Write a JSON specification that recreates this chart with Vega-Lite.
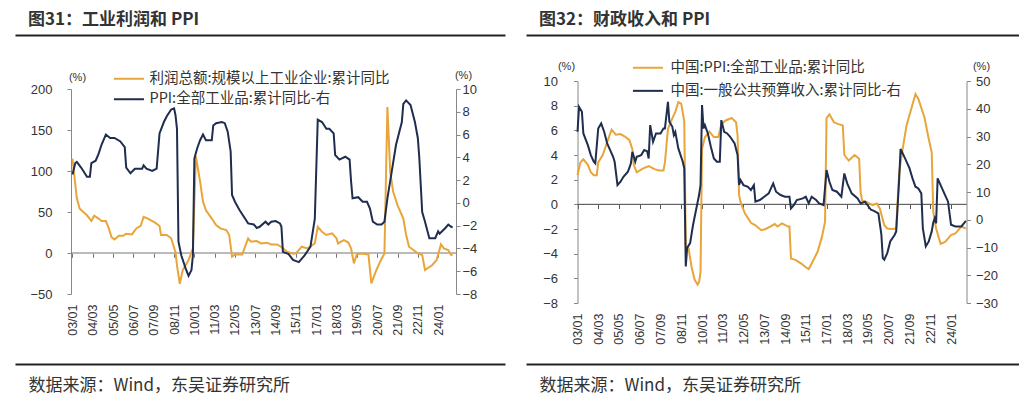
{
  "$schema": "https://vega.github.io/schema/vega-lite/v6.json",
  "padding": {"left": 15, "top": 11, "right": 0, "bottom": 25},
  "spacing": 21,
  "background": "white",
  "resolve": {"scale": {"color": "independent"}, "legend": {"color": "independent"}},
  "config": {
    "view": {"stroke": null},
    "axis": {"grid": false, "labelFont": "Liberation Sans", "labelColor": "#333", "titleFont": "Liberation Sans", "titleFontWeight": "normal", "titleColor": "#333"},
    "legend": {"labelFont": "Noto Sans CJK SC", "labelColor": "#333", "labelLimit": 500}
  },
  "datasets": {
    "lp": [{"d":"2003-01","v":115},{"d":"2003-04","v":67},{"d":"2003-06","v":54},{"d":"2003-11","v":46},{"d":"2004-02","v":39},{"d":"2004-04","v":45.5},{"d":"2004-07","v":42},{"d":"2004-09","v":39},{"d":"2004-12","v":39},{"d":"2005-02","v":30},{"d":"2005-04","v":19},{"d":"2005-06","v":16.6},{"d":"2005-09","v":21},{"d":"2005-12","v":21},{"d":"2006-02","v":23.5},{"d":"2006-06","v":22.7},{"d":"2006-09","v":30},{"d":"2006-12","v":33},{"d":"2007-02","v":44},{"d":"2007-05","v":42},{"d":"2007-10","v":37},{"d":"2008-01","v":33},{"d":"2008-02","v":22},{"d":"2008-06","v":22},{"d":"2008-09","v":18},{"d":"2008-12","v":1},{"d":"2009-01","v":-15},{"d":"2009-03","v":-37.5},{"d":"2009-05","v":-21},{"d":"2009-09","v":-8.5},{"d":"2009-12","v":5.6},{"d":"2010-02","v":118},{"d":"2010-05","v":87},{"d":"2010-07","v":62.6},{"d":"2010-09","v":52},{"d":"2011-01","v":42},{"d":"2011-04","v":34},{"d":"2011-07","v":30},{"d":"2011-11","v":28},{"d":"2012-01","v":22},{"d":"2012-03","v":-4.5},{"d":"2012-05","v":-1.7},{"d":"2012-10","v":-1.7},{"d":"2013-02","v":17.8},{"d":"2013-04","v":13.8},{"d":"2013-08","v":14.6},{"d":"2013-11","v":11.7},{"d":"2014-03","v":12.6},{"d":"2014-06","v":10.5},{"d":"2014-10","v":10.5},{"d":"2015-01","v":7.3},{"d":"2015-05","v":1.6},{"d":"2015-09","v":-0.8},{"d":"2015-11","v":-0.5},{"d":"2016-03","v":7.7},{"d":"2016-07","v":5.6},{"d":"2016-12","v":11.7},{"d":"2017-02","v":32},{"d":"2017-05","v":26},{"d":"2017-08","v":22},{"d":"2017-12","v":24},{"d":"2018-03","v":18},{"d":"2018-04","v":11.7},{"d":"2018-08","v":15.8},{"d":"2018-11","v":13},{"d":"2019-01","v":5.6},{"d":"2019-03","v":-12.7},{"d":"2019-05","v":-1.7},{"d":"2019-08","v":-0.5},{"d":"2020-01","v":-1.7},{"d":"2020-03","v":-37},{"d":"2020-06","v":-22.8},{"d":"2020-09","v":-10.6},{"d":"2020-12","v":-0.5},{"d":"2021-02","v":178},{"d":"2021-04","v":99},{"d":"2021-06","v":75},{"d":"2021-09","v":58.5},{"d":"2022-01","v":42},{"d":"2022-03","v":22},{"d":"2022-05","v":7.7},{"d":"2022-08","v":3.6},{"d":"2022-11","v":-0.5},{"d":"2023-02","v":-2.5},{"d":"2023-04","v":-20.7},{"d":"2023-09","v":-14.6},{"d":"2023-12","v":-8.5},{"d":"2024-03","v":10.5},{"d":"2024-05","v":5.6},{"d":"2024-08","v":3.6},{"d":"2024-10","v":-2.5},{"d":"2024-11","v":-1.7}],
    "lq": [{"d":"2003-01","v":2.5},{"d":"2003-03","v":3.5},{"d":"2003-04","v":3.6},{"d":"2003-07","v":3.1},{"d":"2003-11","v":2.3},{"d":"2004-01","v":2.3},{"d":"2004-02","v":3.5},{"d":"2004-05","v":3.7},{"d":"2004-07","v":4.3},{"d":"2004-09","v":5.1},{"d":"2004-12","v":6.0},{"d":"2005-03","v":5.7},{"d":"2005-06","v":5.7},{"d":"2005-10","v":5.4},{"d":"2006-01","v":4.9},{"d":"2006-02","v":3.1},{"d":"2006-05","v":2.6},{"d":"2006-08","v":3.0},{"d":"2007-01","v":3.0},{"d":"2007-02","v":3.3},{"d":"2007-04","v":3.0},{"d":"2007-08","v":2.8},{"d":"2007-11","v":3.0},{"d":"2008-01","v":6.1},{"d":"2008-04","v":7.1},{"d":"2008-06","v":7.6},{"d":"2008-09","v":8.2},{"d":"2008-11","v":8.3},{"d":"2008-12","v":7.7},{"d":"2009-01","v":6.5},{"d":"2009-02","v":-3.4},{"d":"2009-04","v":-4.6},{"d":"2009-07","v":-5.75},{"d":"2009-09","v":-6.4},{"d":"2009-11","v":-5.9},{"d":"2009-12","v":-4.6},{"d":"2010-01","v":3.9},{"d":"2010-03","v":4.8},{"d":"2010-05","v":5.5},{"d":"2010-07","v":6.0},{"d":"2010-09","v":5.5},{"d":"2011-01","v":5.5},{"d":"2011-02","v":6.8},{"d":"2011-04","v":7.0},{"d":"2011-08","v":7.1},{"d":"2011-10","v":7.0},{"d":"2011-12","v":6.25},{"d":"2012-02","v":4.5},{"d":"2012-03","v":0.7},{"d":"2012-05","v":0.1},{"d":"2012-08","v":-0.6},{"d":"2012-12","v":-1.4},{"d":"2013-02","v":-1.8},{"d":"2013-06","v":-1.9},{"d":"2013-08","v":-2.2},{"d":"2013-10","v":-2.1},{"d":"2014-02","v":-1.65},{"d":"2014-04","v":-1.9},{"d":"2014-06","v":-1.65},{"d":"2014-09","v":-1.6},{"d":"2014-12","v":-1.8},{"d":"2015-01","v":-2.1},{"d":"2015-02","v":-4.3},{"d":"2015-06","v":-4.5},{"d":"2015-09","v":-5.0},{"d":"2016-01","v":-5.2},{"d":"2016-05","v":-4.6},{"d":"2016-09","v":-3.85},{"d":"2016-12","v":-1.4},{"d":"2017-02","v":7.3},{"d":"2017-05","v":7.1},{"d":"2017-08","v":6.5},{"d":"2017-10","v":6.5},{"d":"2018-01","v":6.1},{"d":"2018-02","v":4.2},{"d":"2018-05","v":3.8},{"d":"2018-09","v":4.05},{"d":"2018-12","v":3.8},{"d":"2019-01","v":1.9},{"d":"2019-02","v":0.4},{"d":"2019-06","v":0.5},{"d":"2019-09","v":0.1},{"d":"2019-12","v":0.1},{"d":"2020-02","v":-0.5},{"d":"2020-04","v":-1.65},{"d":"2020-07","v":-1.9},{"d":"2020-10","v":-1.9},{"d":"2020-12","v":-1.65},{"d":"2021-02","v":0.4},{"d":"2021-05","v":2.7},{"d":"2021-08","v":5.1},{"d":"2021-12","v":7.1},{"d":"2022-01","v":8.7},{"d":"2022-03","v":9.0},{"d":"2022-06","v":8.6},{"d":"2022-09","v":7.1},{"d":"2022-11","v":5.7},{"d":"2022-12","v":4.05},{"d":"2023-02","v":-0.8},{"d":"2023-04","v":-1.65},{"d":"2023-07","v":-3.1},{"d":"2023-11","v":-3.1},{"d":"2024-01","v":-2.5},{"d":"2024-02","v":-2.7},{"d":"2024-06","v":-2.2},{"d":"2024-08","v":-1.9},{"d":"2024-10","v":-2.1},{"d":"2024-11","v":-2.15}],
    "rp": [{"d":"2003-01","v":2.36},{"d":"2003-03","v":3.4},{"d":"2003-05","v":3.65},{"d":"2003-08","v":3.2},{"d":"2003-10","v":2.6},{"d":"2003-12","v":2.36},{"d":"2004-02","v":2.36},{"d":"2004-03","v":3.4},{"d":"2004-06","v":4.0},{"d":"2004-09","v":5.05},{"d":"2004-12","v":6.05},{"d":"2005-03","v":5.65},{"d":"2005-06","v":5.7},{"d":"2005-09","v":5.5},{"d":"2005-12","v":5.2},{"d":"2006-02","v":4.45},{"d":"2006-03","v":3.2},{"d":"2006-05","v":2.6},{"d":"2006-09","v":2.9},{"d":"2007-01","v":3.1},{"d":"2007-05","v":2.85},{"d":"2007-08","v":2.75},{"d":"2007-11","v":2.75},{"d":"2007-12","v":3.4},{"d":"2008-02","v":6.1},{"d":"2008-04","v":6.7},{"d":"2008-07","v":7.5},{"d":"2008-09","v":8.3},{"d":"2008-11","v":8.15},{"d":"2009-01","v":6.7},{"d":"2009-02","v":-3.3},{"d":"2009-04","v":-3.6},{"d":"2009-06","v":-5.1},{"d":"2009-08","v":-6.1},{"d":"2009-10","v":-6.5},{"d":"2009-11","v":-6.3},{"d":"2009-12","v":-5.5},{"d":"2010-01","v":4.5},{"d":"2010-03","v":5.45},{"d":"2010-06","v":5.9},{"d":"2010-09","v":5.45},{"d":"2010-12","v":5.45},{"d":"2011-02","v":6.5},{"d":"2011-05","v":6.8},{"d":"2011-09","v":7.0},{"d":"2011-12","v":6.65},{"d":"2012-01","v":5.6},{"d":"2012-02","v":0.75},{"d":"2012-03","v":0.2},{"d":"2012-06","v":-0.75},{"d":"2012-10","v":-1.5},{"d":"2013-01","v":-1.7},{"d":"2013-05","v":-2.1},{"d":"2013-08","v":-2.0},{"d":"2013-11","v":-1.8},{"d":"2014-02","v":-1.6},{"d":"2014-04","v":-1.8},{"d":"2014-07","v":-1.55},{"d":"2014-11","v":-1.8},{"d":"2014-12","v":-1.8},{"d":"2015-01","v":-4.4},{"d":"2015-04","v":-4.5},{"d":"2015-08","v":-4.8},{"d":"2015-11","v":-5.1},{"d":"2016-01","v":-5.25},{"d":"2016-03","v":-4.8},{"d":"2016-07","v":-3.85},{"d":"2016-10","v":-2.6},{"d":"2016-12","v":-1.4},{"d":"2017-01","v":7.0},{"d":"2017-03","v":7.3},{"d":"2017-06","v":6.65},{"d":"2017-09","v":6.5},{"d":"2017-12","v":6.4},{"d":"2018-01","v":4.0},{"d":"2018-04","v":3.55},{"d":"2018-08","v":4.0},{"d":"2018-11","v":3.7},{"d":"2018-12","v":1.0},{"d":"2019-01","v":0.3},{"d":"2019-04","v":0.2},{"d":"2019-08","v":-0.07},{"d":"2019-11","v":0.07},{"d":"2020-01","v":-0.35},{"d":"2020-04","v":-1.7},{"d":"2020-06","v":-1.96},{"d":"2020-09","v":-2.0},{"d":"2020-12","v":-1.96},{"d":"2021-02","v":2.6},{"d":"2021-04","v":4.2},{"d":"2021-07","v":6.4},{"d":"2021-11","v":8.1},{"d":"2022-01","v":8.95},{"d":"2022-03","v":8.55},{"d":"2022-07","v":7.1},{"d":"2022-10","v":5.3},{"d":"2022-12","v":4.2},{"d":"2023-01","v":-0.6},{"d":"2023-03","v":-1.96},{"d":"2023-06","v":-3.2},{"d":"2023-09","v":-3.05},{"d":"2024-01","v":-2.5},{"d":"2024-04","v":-2.35},{"d":"2024-08","v":-1.8},{"d":"2024-11","v":-1.96}],
    "rf": [{"d":"2003-01","v":31.7},{"d":"2003-02","v":40.7},{"d":"2003-04","v":38.9},{"d":"2003-05","v":31.1},{"d":"2003-08","v":26.9},{"d":"2003-10","v":23.3},{"d":"2003-12","v":20.9},{"d":"2004-01","v":20.3},{"d":"2004-03","v":32.9},{"d":"2004-05","v":34.7},{"d":"2004-07","v":31.7},{"d":"2004-09","v":27.5},{"d":"2004-11","v":25.1},{"d":"2005-01","v":22.7},{"d":"2005-02","v":20.9},{"d":"2005-04","v":12.5},{"d":"2005-06","v":13.7},{"d":"2005-08","v":15.5},{"d":"2005-11","v":17.3},{"d":"2006-01","v":20.3},{"d":"2006-02","v":24.5},{"d":"2006-04","v":20.9},{"d":"2006-05","v":22.7},{"d":"2006-08","v":23.3},{"d":"2006-10","v":25.1},{"d":"2006-12","v":24.7},{"d":"2007-01","v":22.1},{"d":"2007-02","v":34.1},{"d":"2007-04","v":28.1},{"d":"2007-06","v":31.1},{"d":"2007-09","v":31.1},{"d":"2007-11","v":32.9},{"d":"2007-12","v":32.9},{"d":"2008-02","v":42.5},{"d":"2008-03","v":35.3},{"d":"2008-05","v":33.5},{"d":"2008-06","v":30.5},{"d":"2008-07","v":31.7},{"d":"2008-09","v":25.7},{"d":"2008-12","v":20.9},{"d":"2009-01","v":18.5},{"d":"2009-02","v":-16.8},{"d":"2009-03","v":-10.2},{"d":"2009-05","v":-8.4},{"d":"2009-07","v":-1.8},{"d":"2009-09","v":3.6},{"d":"2009-11","v":8.9},{"d":"2009-12","v":12.5},{"d":"2010-01","v":41.3},{"d":"2010-02","v":32.9},{"d":"2010-03","v":34.1},{"d":"2010-05","v":31.1},{"d":"2010-07","v":26.3},{"d":"2010-09","v":22.1},{"d":"2010-11","v":20.9},{"d":"2011-01","v":20.9},{"d":"2011-02","v":35.9},{"d":"2011-04","v":31.7},{"d":"2011-06","v":31.1},{"d":"2011-08","v":29.9},{"d":"2011-11","v":27.5},{"d":"2012-01","v":23.3},{"d":"2012-02","v":12.5},{"d":"2012-03","v":14.3},{"d":"2012-05","v":12.5},{"d":"2012-08","v":11.9},{"d":"2012-10","v":10.7},{"d":"2012-12","v":12.5},{"d":"2013-01","v":6.5},{"d":"2013-04","v":7.1},{"d":"2013-07","v":8.3},{"d":"2013-10","v":9.5},{"d":"2014-01","v":13.1},{"d":"2014-03","v":10.1},{"d":"2014-06","v":8.9},{"d":"2014-09","v":8.3},{"d":"2014-12","v":8.3},{"d":"2015-01","v":4.1},{"d":"2015-03","v":5.3},{"d":"2015-05","v":7.1},{"d":"2015-09","v":7.7},{"d":"2015-11","v":8.3},{"d":"2016-01","v":5.9},{"d":"2016-03","v":8.3},{"d":"2016-06","v":7.1},{"d":"2016-08","v":5.9},{"d":"2016-11","v":5.3},{"d":"2017-01","v":17.9},{"d":"2017-03","v":13.7},{"d":"2017-05","v":10.7},{"d":"2017-08","v":10.1},{"d":"2017-11","v":8.3},{"d":"2018-01","v":16.7},{"d":"2018-03","v":13.1},{"d":"2018-06","v":9.5},{"d":"2018-10","v":7.7},{"d":"2018-12","v":5.9},{"d":"2019-03","v":6.5},{"d":"2019-07","v":3.6},{"d":"2019-09","v":3.2},{"d":"2019-12","v":2.3},{"d":"2020-02","v":-5.4},{"d":"2020-03","v":-13.8},{"d":"2020-04","v":-14.4},{"d":"2020-06","v":-12.0},{"d":"2020-08","v":-7.8},{"d":"2020-11","v":-5.4},{"d":"2020-12","v":-4.2},{"d":"2021-02","v":14.9},{"d":"2021-03","v":25.5},{"d":"2021-06","v":22.1},{"d":"2021-09","v":18.5},{"d":"2021-11","v":14.9},{"d":"2022-01","v":11.9},{"d":"2022-03","v":11.3},{"d":"2022-05","v":9.5},{"d":"2022-06","v":-3},{"d":"2022-08","v":-9.6},{"d":"2022-10","v":-7.8},{"d":"2022-12","v":-4.2},{"d":"2023-01","v":-1},{"d":"2023-02","v":0.5},{"d":"2023-03","v":-1.3},{"d":"2023-04","v":14.9},{"d":"2023-07","v":11.3},{"d":"2023-09","v":8.9},{"d":"2023-11","v":6.5},{"d":"2024-01","v":-1.8},{"d":"2024-04","v":-2.4},{"d":"2024-08","v":-2.4},{"d":"2024-11","v":-0.4}]
  },
  "hconcat": [
    {
      "width": 490,
      "height": 222,
      "title": {"text": "图31：工业利润和 PPI", "anchor": "start", "frame": "group", "dx": 13, "offset": 6, "font": "Noto Sans CJK SC", "fontSize": 17, "fontWeight": "bold", "color": "#333"},
      "layer": [
        {
          "data": {"values": [{"zero": 0}]},
          "mark": {"type": "rule", "color": "#777", "strokeWidth": 1},
          "encoding": {
            "x": {"datum": {"year": 2002, "month": 12, "date": 10}, "type": "temporal",
              "scale": {"domain": [{"year": 1999, "month": 9, "date": 13}, {"year": 2027, "month": 11, "date": 4}]},
              "axis": {"orient": "bottom", "offset": -49.7, "domain": false, "ticks": true, "tickSize": 4, "tickColor": "#777", "labels": false, "title": null,
                "values": [{"year":2003,"month":1},{"year":2004,"month":3},{"year":2005,"month":5},{"year":2006,"month":7},{"year":2007,"month":9},{"year":2008,"month":11},{"year":2010,"month":1},{"year":2011,"month":3},{"year":2012,"month":5},{"year":2013,"month":7},{"year":2014,"month":9},{"year":2015,"month":11},{"year":2017,"month":1},{"year":2018,"month":3},{"year":2019,"month":5},{"year":2020,"month":7},{"year":2021,"month":9},{"year":2022,"month":11},{"year":2024,"month":1}]}},
            "x2": {"datum": {"year": 2025, "month": 1, "date": 15}},
            "y": {"field": "zero", "type": "quantitative", "scale": {"domain": [-50, 200], "range": [213, 8], "nice": false, "zero": false}, "axis": null}
          }
        },
        {
          "data": {"name": "lp"},
          "mark": {"type": "line", "strokeWidth": 2},
          "encoding": {
            "x": {"field": "d", "type": "temporal",
              "axis": {"orient": "bottom", "offset": 0, "domain": false, "ticks": false, "title": null, "format": "%y/%m", "labelAngle": 270, "labelAlign": "right", "labelBaseline": "middle", "labelPadding": 1, "labelFontSize": 12.5, "labelOverlap": false, "labelFlush": false, "labelBound": false,
                "values": [{"year":2003,"month":1},{"year":2004,"month":3},{"year":2005,"month":5},{"year":2006,"month":7},{"year":2007,"month":9},{"year":2008,"month":11},{"year":2010,"month":1},{"year":2011,"month":3},{"year":2012,"month":5},{"year":2013,"month":7},{"year":2014,"month":9},{"year":2015,"month":11},{"year":2017,"month":1},{"year":2018,"month":3},{"year":2019,"month":5},{"year":2020,"month":7},{"year":2021,"month":9},{"year":2022,"month":11},{"year":2024,"month":1}]}},
            "y": {"field": "v", "type": "quantitative",
              "scale": {"domain": [-50, 200], "range": [213, 8], "nice": false, "zero": false},
              "axis": {"orient": "left", "offset": -56, "values": [-50, 0, 50, 100, 150, 200], "domainColor": "#888", "tickColor": "#888", "tickSize": 4, "labelPadding": 15, "labelFontSize": 13, "title": "(%)", "titleAngle": 0, "titleX": 6, "titleY": -4, "titleAlign": "center", "titleBaseline": "middle", "titleFontSize": 11}},
            "color": {"datum": "利润总额:规模以上工业企业:累计同比",
              "scale": {"domain": ["利润总额:规模以上工业企业:累计同比", "PPI:全部工业品:累计同比-右"], "range": ["#E8A53A", "#1F2D4F"]},
              "legend": {"orient": "none", "legendX": 106.7, "legendY": -9.5, "direction": "vertical", "title": null, "padding": 0, "symbolType": "M-3,0H3", "symbolSize": 100, "symbolStrokeWidth": 2, "labelOffset": 13.3, "labelFontSize": 14.5, "rowPadding": 5.5}}
          }
        },
        {
          "data": {"name": "lq"},
          "mark": {"type": "line", "strokeWidth": 2},
          "encoding": {
            "x": {"field": "d", "type": "temporal",
              "axis": {"orient": "top", "offset": 46, "domain": true, "domainColor": "#222", "domainWidth": 2, "ticks": false, "labels": false, "title": null}},
            "y": {"field": "v", "type": "quantitative",
              "scale": {"domain": [-8, 10], "range": [213, 8], "nice": false, "zero": false},
              "axis": {"orient": "right", "offset": -49, "values": [-8, -6, -4, -2, 0, 2, 4, 6, 8, 10], "domainColor": "#888", "tickColor": "#888", "tickSize": 4, "labelPadding": 2, "labelFontSize": 13, "title": "(%)", "titleAngle": 0, "titleX": 7, "titleY": -6, "titleAlign": "center", "titleBaseline": "middle", "titleFontSize": 11}},
            "color": {"datum": "PPI:全部工业品:累计同比-右"}
          }
        },
        {
          "data": {"values": [{"zero": 0}]},
          "mark": {"type": "rule", "strokeOpacity": 0},
          "encoding": {
            "x": {"datum": {"year": 2003, "month": 1, "date": 1}, "type": "temporal",
              "axis": {"orient": "bottom", "offset": 61, "domain": true, "domainColor": "#222", "domainWidth": 2, "ticks": false, "labels": false,
                "title": "数据来源：Wind，东吴证券研究所", "titleFont": "Noto Sans CJK SC", "titleFontSize": 17, "titleColor": "#333", "titleAnchor": "start", "titleAlign": "left", "titleBaseline": "middle", "titleX": 13, "titleY": 21, "titleLimit": 480}},
            "y": {"field": "zero", "type": "quantitative", "scale": {"domain": [-50, 200], "range": [213, 8], "nice": false, "zero": false}, "axis": null}
          }
        }
      ],
      "resolve": {"scale": {"y": "independent"}, "axis": {"x": "independent", "y": "independent"}}
    },
    {
      "width": 493,
      "height": 222,
      "title": {"text": "图32：财政收入和 PPI", "anchor": "start", "frame": "group", "dx": 13, "offset": 6, "font": "Noto Sans CJK SC", "fontSize": 17, "fontWeight": "bold", "color": "#333"},
      "layer": [
        {
          "data": {"values": [{"zero": 0}]},
          "mark": {"type": "rule", "color": "#444", "strokeWidth": 1},
          "encoding": {
            "x": {"datum": {"year": 2003, "month": 1, "date": 1}, "type": "temporal",
              "scale": {"domain": [{"year": 2000, "month": 2, "date": 8}, {"year": 2027, "month": 10, "date": 28}]},
              "axis": {"orient": "bottom", "offset": -98.5, "domain": false, "ticks": true, "tickSize": 4, "tickColor": "#555", "labels": false, "title": null,
                "values": [{"year":2003,"month":1},{"year":2004,"month":3},{"year":2005,"month":5},{"year":2006,"month":7},{"year":2007,"month":9},{"year":2008,"month":11},{"year":2010,"month":1},{"year":2011,"month":3},{"year":2012,"month":5},{"year":2013,"month":7},{"year":2014,"month":9},{"year":2015,"month":11},{"year":2017,"month":1},{"year":2018,"month":3},{"year":2019,"month":5},{"year":2020,"month":7},{"year":2021,"month":9},{"year":2022,"month":11},{"year":2024,"month":1}]}},
            "x2": {"datum": {"year": 2024, "month": 11, "date": 15}},
            "y": {"field": "zero", "type": "quantitative", "scale": {"domain": [-8, 10], "nice": false, "zero": false}, "axis": null}
          }
        },
        {
          "data": {"name": "rp"},
          "mark": {"type": "line", "strokeWidth": 2},
          "encoding": {
            "x": {"field": "d", "type": "temporal",
              "axis": {"orient": "bottom", "offset": 0, "domain": false, "ticks": false, "title": null, "format": "%y/%m", "labelAngle": 270, "labelAlign": "right", "labelBaseline": "middle", "labelPadding": 10, "labelFontSize": 12.5, "labelOverlap": false, "labelFlush": false, "labelBound": false,
                "values": [{"year":2003,"month":1},{"year":2004,"month":3},{"year":2005,"month":5},{"year":2006,"month":7},{"year":2007,"month":9},{"year":2008,"month":11},{"year":2010,"month":1},{"year":2011,"month":3},{"year":2012,"month":5},{"year":2013,"month":7},{"year":2014,"month":9},{"year":2015,"month":11},{"year":2017,"month":1},{"year":2018,"month":3},{"year":2019,"month":5},{"year":2020,"month":7},{"year":2021,"month":9},{"year":2022,"month":11},{"year":2024,"month":1}]}},
            "y": {"field": "v", "type": "quantitative",
              "scale": {"domain": [-8, 10], "nice": false, "zero": false},
              "axis": {"orient": "left", "offset": -51.5, "values": [-8, -6, -4, -2, 0, 2, 4, 6, 8, 10], "domainColor": "#888", "tickColor": "#888", "tickSize": 4, "labelPadding": 16, "labelFontSize": 13, "title": "(%)", "titleAngle": 0, "titleX": -11.5, "titleY": -15, "titleAlign": "center", "titleBaseline": "middle", "titleFontSize": 11}},
            "color": {"datum": "中国:PPI:全部工业品:累计同比",
              "scale": {"domain": ["中国:PPI:全部工业品:累计同比", "中国:一般公共预算收入:累计同比-右"], "range": ["#E8A53A", "#1F2D4F"]},
              "legend": {"orient": "none", "legendX": 114.7, "legendY": -20.5, "direction": "vertical", "title": null, "padding": 0, "symbolType": "M-3,0H3", "symbolSize": 100, "symbolStrokeWidth": 2, "labelOffset": 15.3, "labelFontSize": 14.5, "rowPadding": 8.1}}
          }
        },
        {
          "data": {"name": "rf"},
          "mark": {"type": "line", "strokeWidth": 2},
          "encoding": {
            "x": {"field": "d", "type": "temporal",
              "axis": {"orient": "top", "offset": 46, "domain": true, "domainColor": "#222", "domainWidth": 2, "ticks": false, "labels": false, "title": null}},
            "y": {"field": "v", "type": "quantitative",
              "scale": {"domain": [-30, 50], "nice": false, "zero": false},
              "axis": {"orient": "right", "offset": -52.5, "values": [-30, -20, -10, 0, 10, 20, 30, 40, 50], "domainColor": "#888", "tickColor": "#888", "tickSize": 4, "labelPadding": 5, "labelFontSize": 13, "title": "(%)", "titleAngle": 0, "titleX": 14.5, "titleY": -15, "titleAlign": "center", "titleBaseline": "middle", "titleFontSize": 11}},
            "color": {"datum": "中国:一般公共预算收入:累计同比-右"}
          }
        },
        {
          "data": {"values": [{"zero": 0}]},
          "mark": {"type": "rule", "strokeOpacity": 0},
          "encoding": {
            "x": {"datum": {"year": 2003, "month": 1, "date": 1}, "type": "temporal",
              "axis": {"orient": "bottom", "offset": 61, "domain": true, "domainColor": "#222", "domainWidth": 2, "ticks": false, "labels": false,
                "title": "数据来源：Wind，东吴证券研究所", "titleFont": "Noto Sans CJK SC", "titleFontSize": 17, "titleColor": "#333", "titleAnchor": "start", "titleAlign": "left", "titleBaseline": "middle", "titleX": 13, "titleY": 21, "titleLimit": 480}},
            "y": {"field": "zero", "type": "quantitative", "scale": {"domain": [-8, 10], "nice": false, "zero": false}, "axis": null}
          }
        }
      ],
      "resolve": {"scale": {"y": "independent"}, "axis": {"x": "independent", "y": "independent"}}
    }
  ]
}
